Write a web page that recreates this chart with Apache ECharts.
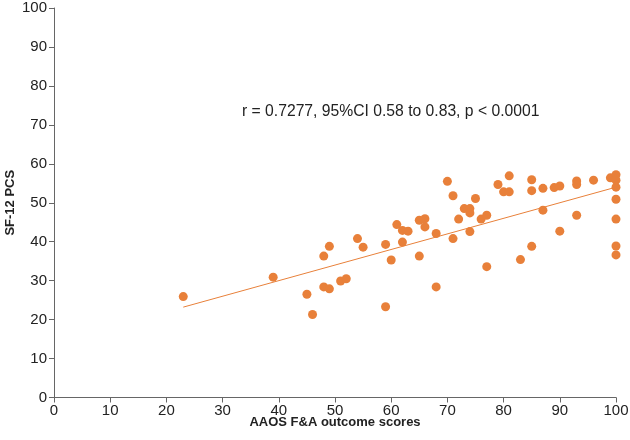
<!DOCTYPE html>
<html>
<head>
<meta charset="utf-8">
<script src="https://cdn.jsdelivr.net/npm/echarts@6/dist/echarts.min.js"></script>
<style>html,body{margin:0;padding:0;background:#fff}#c{width:630px;height:440px}</style>
</head>
<body>
<div id="c"></div>
<script>
const xScores = [23,39,45,46,48,49,48,49,51,52,54,55,59,60,59,61,62,63,62,65,66,66,65,68,68,70,71,71,72,73,74,74,75,74,76,77,77,79,80,81,81,83,85,85,85,87,87,89,90,90,93,93,93,96,99,100,100,100,100,100,100,100];
const yPcs = [25.9,30.9,26.5,21.3,36.3,38.8,28.4,27.9,29.9,30.5,40.8,38.6,39.3,35.3,23.3,44.4,42.9,42.7,39.9,45.5,45.9,43.8,36.3,42.1,28.4,55.5,51.8,40.8,45.8,48.5,48.5,47.4,51.1,42.6,45.8,46.8,33.6,54.7,52.8,52.8,56.9,35.4,55.9,53.1,38.8,53.7,48.1,53.9,54.3,42.7,55.6,54.7,46.8,55.8,56.4,57.2,55.8,54.0,50.9,45.8,38.9,36.6];
const fitX = [23,100];
const fitY = [23.2,54.0];
const xTicks = [0,10,20,30,40,50,60,70,80,90,100];
const yTicks = [0,10,20,30,40,50,60,70,80,90,100];
const annotation = 'r = 0.7277, 95%CI 0.58 to 0.83, p < 0.0001';

const orange = '#E8803A';
const chart = echarts.init(document.getElementById('c'), null, {renderer:'canvas'});
const axisCommon = {
  min: 0, max: 100, interval: 10,
  axisLine: {show:true, onZero:false, lineStyle:{color:'#666', width:1}},
  axisTick: {show:true, length:5, lineStyle:{color:'#666'}},
  splitLine: {show:false},
  nameMoveOverlap: false,
  axisLabel: {color:'#222', fontSize:15, fontFamily:'Liberation Sans'},
  nameTextStyle: {color:'#222', fontSize:13, fontWeight:'bold', fontFamily:'Liberation Sans'}
};
chart.setOption({
  animation:false,
  grid:{left:54, right:14, top:8, bottom:42.5, containLabel:false, outerBoundsMode:'none'},
  xAxis: Object.assign({}, axisCommon, {type:'value', name:'AAOS F&A outcome scores', nameLocation:'middle', nameGap:18,
    axisLabel: Object.assign({}, axisCommon.axisLabel, {margin:6, formatter: v => xTicks.includes(v) ? String(v) : ''})}),
  yAxis: Object.assign({}, axisCommon, {type:'value', name:'SF-12 PCS', nameLocation:'middle', nameGap:37,
    axisLabel: Object.assign({}, axisCommon.axisLabel, {margin:7, formatter: v => yTicks.includes(v) ? String(v) : ''})}),
  graphic:[{type:'text', left:242, top:104, z:10,
    style:{text:annotation, fill:'#222', fontSize:15.7, fontFamily:'Liberation Sans'}}],
  series:[
    {type:'scatter', symbolSize:9, itemStyle:{color:orange, opacity:1}, data: xScores.map((x,i)=>[x,yPcs[i]])},
    {type:'line', symbol:'none', lineStyle:{color:orange, width:1}, data: fitX.map((x,i)=>[x,fitY[i]])}
  ]
});
</script>
</body>
</html>
